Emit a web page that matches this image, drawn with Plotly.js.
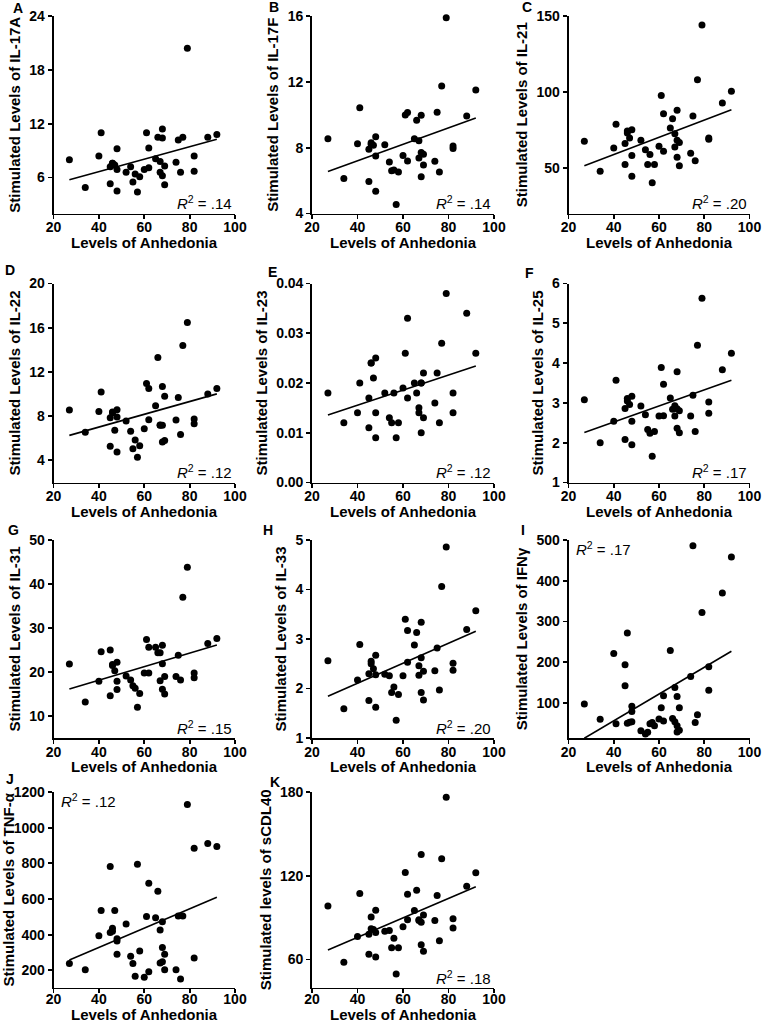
<!DOCTYPE html>
<html>
<head>
<meta charset="utf-8">
<script src="https://cdn.plot.ly/plotly-3.0.1.min.js"></script>
<style>
  html, body { margin: 0; padding: 0; background: #fff; }
  #chart { width: 762px; height: 1025px; }
</style>
</head>
<body>
<div id="chart"></div>
<script>
// anhedonia score of each subject (same subjects in every panel)
const anhedonia = [27, 34, 40, 41, 45, 45, 46, 46, 47, 48, 48, 48, 52, 54, 55, 56, 57, 58, 60, 61,
  62, 62, 65, 66, 67, 67, 68, 68, 68, 69, 69, 74, 75, 76, 77, 79, 82, 82, 88, 92];

const il17a = [8.0, 4.9, 8.4, 11.0, 5.3, 7.2, 7.6, 7.6, 7.4, 9.2, 6.9, 4.5, 6.6, 7.2, 5.5, 6.4, 4.4, 6.1, 6.9, 11.0,
  9.3, 7.1, 8.1, 10.5, 6.6, 7.8, 11.4, 6.2, 10.4, 7.3, 5.2, 7.7, 10.2, 6.6, 10.5, 20.4, 8.4, 6.7, 10.5, 10.8];
const il17f = [8.54, 6.12, 8.24, 10.42, 5.94, 7.9, 8.3, 8.2, 8.14, 8.66, 7.49, 5.35, 8.18, 7.13, 6.6, 6.64, 4.55, 6.52, 7.53, 9.99,
  10.13, 7.19, 8.54, 9.67, 8.42, 7.37, 9.97, 6.24, 7.7, 7.6, 6.95, 7.17, 10.15, 6.52, 11.75, 15.9, 8.1, 7.95, 9.93, 11.5];
const il21 = [67.5, 47.8, 63.1, 78.7, 52.2, 66.0, 74.3, 73, 69.7, 75.2, 58.1, 44.5, 68.2, 62.0, 52.2, 58.8, 40.2, 52.2, 64.2, 97.7,
  85.7, 60.9, 76.3, 82.3, 72.5, 63.8, 87.9, 57.0, 68.2, 66.8, 51.5, 59.7, 84.2, 54.7, 108, 144, 69.7, 68.8, 92.7, 100.5];
const il22 = [8.55, 6.54, 8.43, 10.18, 5.27, 7.86, 8.37, 8.3, 6.72, 8.58, 7.92, 4.76, 7.56, 6.63, 5.06, 5.84, 4.28, 5.33, 6.87, 10.96,
  10.51, 7.68, 8.95, 13.31, 7.17, 7.2, 10.69, 5.66, 7.17, 9.81, 5.81, 7.65, 9.69, 6.35, 14.4, 16.48, 7.74, 7.32, 10.0, 10.51];
const il23 = [0.018, 0.012, 0.014, 0.020, 0.011, 0.017, 0.024, 0.024, 0.021, 0.025, 0.014, 0.009, 0.018, 0.013, 0.012, 0.018, 0.009, 0.012, 0.019, 0.026,
  0.033, 0.017, 0.020, 0.018, 0.015, 0.014, 0.020, 0.010, 0.020, 0.022, 0.013, 0.016, 0.022, 0.012, 0.028, 0.038, 0.018, 0.014, 0.034, 0.026];
const il25 = [3.08, 2.0, 2.54, 3.57, 2.08, 2.86, 3.11, 3.05, 2.96, 3.17, 2.54, 1.95, 2.92, 2.70, 2.33, 2.24, 1.66, 2.28, 2.67, 3.89,
  3.47, 2.68, 3.12, 2.84, 2.93, 2.67, 3.78, 2.36, 2.85, 2.80, 2.25, 2.67, 3.19, 2.28, 4.45, 5.63, 3.02, 2.74, 3.83, 4.25];
const il31 = [21.8, 13.2, 17.9, 24.6, 14.6, 25.0, 21.7, 21.5, 20.3, 22.2, 17.9, 16.0, 19.1, 18.2, 16.9, 16.3, 12.0, 15.1, 19.8, 27.4,
  25.6, 19.8, 25.6, 24.4, 24.4, 18.0, 26.1, 16.1, 21.9, 19.0, 15.0, 19.0, 23.8, 18.2, 37.0, 43.8, 19.8, 18.7, 26.5, 27.6];
const il33 = [2.56, 1.59, 2.17, 2.89, 1.76, 2.30, 2.55, 2.5, 2.40, 2.67, 2.28, 1.62, 2.29, 2.26, 1.92, 2.03, 1.36, 1.88, 2.26, 3.40,
  3.17, 2.53, 2.88, 3.13, 2.46, 2.27, 3.34, 1.92, 2.62, 2.35, 1.77, 2.36, 2.82, 1.97, 4.06, 4.86, 2.51, 2.37, 3.19, 3.57];
const ifng = [97.5, 59.8, 221.6, 49, 142, 194, 272, 50, 52.4, 91.9, 79, 54, 32, 24, 28, 49, 52, 44, 60.5, 88,
  118, 56, 229, 62, 54, 138, 44, 29, 116, 88, 33, 165, 486, 52, 71, 322, 189, 131, 370, 458];
const tnfa = [239, 204, 394, 535, 782, 412, 436, 420, 536, 377, 364, 290, 460, 279, 239, 167, 795, 309, 161, 502,
  688, 192, 495, 643, 426, 241, 328, 249, 472, 290, 203, 204, 505, 151, 505, 1130, 884, 270, 911, 895];
const scd40l = [98.4, 58.1, 76.5, 107.3, 63.8, 78.1, 90.4, 82, 81.6, 95.3, 79.3, 61.9, 80.2, 80.9, 68.5, 75.3, 49.6, 68.5, 83.5, 122.4,
  106.8, 88.5, 95.1, 109.6, 88, 88.5, 135.3, 70.6, 86.8, 92, 65.9, 88, 105.9, 73.4, 132.2, 176.2, 89.2, 82.6, 112.5, 122.1];

const letters = ['A', 'B', 'C', 'D', 'E', 'F', 'G', 'H', 'I', 'J', 'K'];
const yTitles = ['Stimulated Levels of IL-17A', 'Stimulated Levels of IL-17F', 'Stimulated Levels of IL-21',
  'Stimulated Levels of IL-22', 'Stimulated Levels of IL-23', 'Stimulated Levels of IL-25',
  'Stimulated Levels of IL-31', 'Stimulated Levels of IL-33', 'Stimulated Levels of IFNγ',
  'Stimulated Levels of TNF-α', 'Stimulated levels of sCDL40'];
const xTitle = 'Levels of Anhedonia';
const series = [il17a, il17f, il21, il22, il23, il25, il31, il33, ifng, tnfa, scd40l];
const rSquared = ['.14', '.14', '.20', '.12', '.12', '.17', '.15', '.20', '.17', '.12', '.18'];
const yRanges = [[2, 24], [4, 16], [20, 150], [2, 20], [0, 0.04], [1, 6], [5, 50], [1, 5], [14, 500], [104, 1200], [40, 180]];
const yTicks = [[6, 12, 18, 24], [4, 8, 12, 16], [50, 100, 150], [4, 8, 12, 16, 20], [0, 0.01, 0.02, 0.03, 0.04],
  [1, 2, 3, 4, 5, 6], [10, 20, 30, 40, 50], [1, 2, 3, 4, 5], [100, 200, 300, 400, 500],
  [200, 400, 600, 800, 1000, 1200], [60, 120, 180]];
const xTicks = [20, 40, 60, 80, 100];

// page layout in pixels
const W = 762, H = 1025;
const cols = [[53.5, 235], [312, 494], [568.5, 749.5]];
const rows = [[16, 213.5], [283.5, 482.5], [540, 738], [792, 987.5]];
const letterPos = [[18, 8], [274, 7], [527, 7], [10, 270], [272, 272], [529, 273],
  [13, 530], [268, 530], [523, 530], [10, 779], [275, 782]];
const r2TopLeft = ['I', 'J'];

const FONT = 'Liberation Sans, Arial, Helvetica, sans-serif';

function fitLine(x, y) {
  const n = x.length;
  const mx = x.reduce((a, b) => a + b, 0) / n;
  const my = y.reduce((a, b) => a + b, 0) / n;
  let sxy = 0, sxx = 0;
  for (let i = 0; i < n; i++) {
    sxy += (x[i] - mx) * (y[i] - my);
    sxx += (x[i] - mx) * (x[i] - mx);
  }
  const slope = sxy / sxx;
  return { slope: slope, intercept: my - slope * mx };
}

const data = [];
const layout = {
  width: W,
  height: H,
  margin: { l: 0, r: 0, t: 0, b: 0 },
  paper_bgcolor: '#fff',
  plot_bgcolor: 'rgba(0,0,0,0)',
  showlegend: false,
  annotations: [],
};

letters.forEach(function (letter, i) {
  const n = i + 1;
  const xa = 'x' + n, ya = 'y' + n;
  const col = cols[i % 3], row = rows[Math.floor(i / 3)];
  const y = series[i];
  // the bottom row sits on the page edge, so its x texts are packed tighter
  const atBottom = row[1] + 38 > H;

  data.push({
    x: anhedonia, y: y, xaxis: xa, yaxis: ya,
    type: 'scatter', mode: 'markers',
    marker: { color: '#000', size: 7 },
    cliponaxis: false,
  });

  const fit = fitLine(anhedonia, y);
  const xMin = Math.min.apply(null, anhedonia), xMax = Math.max.apply(null, anhedonia);
  data.push({
    x: [xMin, xMax], y: [fit.intercept + fit.slope * xMin, fit.intercept + fit.slope * xMax],
    xaxis: xa, yaxis: ya,
    type: 'scatter', mode: 'lines',
    line: { color: '#000', width: 1.6 },
  });

  const axisCommon = {
    showline: true, linecolor: '#000', linewidth: 1.8,
    ticks: 'outside', ticklen: 4, tickwidth: 1.8, tickcolor: '#000',
    showgrid: false, zeroline: false, automargin: false,
    tickfont: { family: FONT, size: 14, color: '#000', weight: 'bold' },
  };

  layout['xaxis' + (n === 1 ? '' : n)] = Object.assign({}, axisCommon, {
    domain: [col[0] / W, col[1] / W],
    anchor: ya,
    range: [20, 100],
    tickvals: xTicks,
    ticklabelstandoff: atBottom ? -6 : -4,
  });
  layout['yaxis' + (n === 1 ? '' : n)] = Object.assign({}, axisCommon, {
    domain: [1 - row[1] / H, 1 - row[0] / H],
    anchor: xa,
    range: yRanges[i],
    tickvals: yTicks[i],
    tickformat: letter === 'E' ? '.2f' : '',
    title: { text: yTitles[i], font: { family: FONT, size: 15, color: '#000', weight: 'bold' }, standoff: 5 },
  });

  // x title placed just under the tick labels
  layout.annotations.push({
    text: xTitle, xref: 'paper', yref: 'paper',
    x: (col[0] + col[1]) / 2 / W, y: atBottom ? 0 : 1 - (row[1] + 28.5) / H,
    xanchor: 'center', yanchor: atBottom ? 'bottom' : 'middle', showarrow: false,
    font: { family: FONT, size: 15, color: '#000', weight: 'bold' },
  });

  layout.annotations.push({
    text: letter, xref: 'paper', yref: 'paper',
    x: letterPos[i][0] / W, y: 1 - letterPos[i][1] / H,
    xanchor: 'center', yanchor: 'middle', showarrow: false,
    font: { family: FONT, size: 14, color: '#000', weight: 'bold' },
  });

  const topLeft = r2TopLeft.indexOf(letter) >= 0;
  layout.annotations.push({
    text: '<i>R</i><sup>2</sup> = ' + rSquared[i],
    xref: 'paper', yref: 'paper',
    x: topLeft ? (col[0] + 5) / W : (col[1] - 1) / W,
    y: topLeft ? 1 - (row[0] + 8) / H : 1 - (row[1] - 10.5) / H,
    xanchor: topLeft ? 'left' : 'right', yanchor: 'middle', showarrow: false,
    font: { family: FONT, size: 15, color: '#000' },
  });
});

Plotly.newPlot('chart', data, layout, { displayModeBar: false, staticPlot: true });
</script>
</body>
</html>
